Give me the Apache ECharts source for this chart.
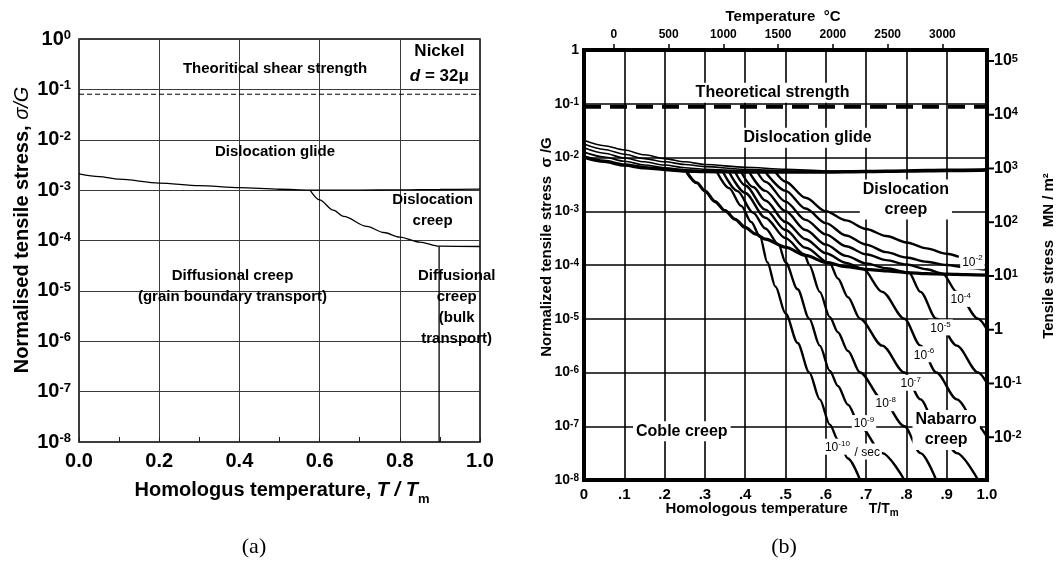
<!DOCTYPE html>
<html>
<head>
<meta charset="utf-8">
<title>Deformation mechanism maps</title>
<script src="https://cdn.jsdelivr.net/npm/echarts@6/dist/echarts.min.js"></script>
<style>
html,body{margin:0;padding:0;background:#fff;}
#chart{width:1057px;height:563px;}
</style>
</head>
<body>
<div id="chart"></div>
<script>
const FONT = '"Liberation Sans", Arial, Helvetica, sans-serif';
const SERIF = '"Liberation Serif", "Times New Roman", serif';

// ---------- (a) Nickel, d = 32 µm : field boundaries, σ/G against T/Tm ----------
const nickelGlideT      = [0, 0.05, 0.1, 0.2, 0.3, 0.4, 0.5, 0.576, 0.7, 0.8, 0.9, 1.0];
const nickelGlideStress = [2.1e-3, 1.85e-3, 1.65e-3, 1.38e-3, 1.23e-3, 1.12e-3, 1.04e-3, 1.0e-3, 1.0e-3, 1.01e-3, 1.03e-3, 1.05e-3];
const nickelCreepT      = [0.576, 0.6, 0.634, 0.66, 0.718, 0.76, 0.8, 0.85, 0.898, 1.0];
const nickelCreepStress = [1.0e-3, 6.4e-4, 4.0e-4, 3.0e-4, 1.9e-4, 1.44e-4, 1.17e-4, 9.3e-5, 7.7e-5, 7.6e-5];
const nickelBulkT       = [0.898, 0.898];
const nickelBulkStress  = [7.7e-5, 1e-8];
const nickelTheoretical = 0.08;

// ---------- (b) map with strain-rate contours : points as [T/Tm, log10(σ/G)] ----------
const theoreticalLogB = -1.055;
const glideMain = [[0,-1.99],[0.05,-2.07],[0.1,-2.14],[0.15,-2.19],[0.2,-2.22],[0.25,-2.25],[0.3,-2.26],[0.4,-2.27],[0.5,-2.27],[0.6,-2.27],[0.7,-2.26],[0.8,-2.25],[0.9,-2.24],[1.0,-2.23]];
const glideBand1 = [[0,-1.68],[0.05,-1.78],[0.1,-1.86],[0.15,-1.95],[0.2,-2.02],[0.25,-2.08],[0.3,-2.13],[0.4,-2.18],[0.5,-2.22],[0.6,-2.25],[0.7,-2.26]];
const glideBand2 = [[0,-1.75],[0.05,-1.85],[0.1,-1.94],[0.15,-2.02],[0.2,-2.08],[0.25,-2.13],[0.3,-2.17],[0.4,-2.22],[0.5,-2.25],[0.6,-2.27]];
const glideBand3 = [[0,-1.82],[0.05,-1.92],[0.1,-2.01],[0.15,-2.08],[0.2,-2.14],[0.25,-2.19],[0.3,-2.22],[0.4,-2.25],[0.5,-2.27]];
const glideBand4 = [[0,-1.9],[0.05,-1.99],[0.1,-2.07],[0.15,-2.14],[0.2,-2.19],[0.25,-2.23],[0.3,-2.25],[0.4,-2.27]];
const creepDiffusionBoundary = [[0.255,-2.27],[0.28,-2.47],[0.3,-2.62],[0.325,-2.82],[0.35,-2.99],[0.375,-3.15],[0.4,-3.3],[0.425,-3.42],[0.45,-3.52],[0.5,-3.67],[0.55,-3.82],[0.6,-3.95],[0.65,-4.03],[0.7,-4.08],[0.75,-4.11],[0.8,-4.14],[0.85,-4.16],[0.9,-4.17],[0.95,-4.18],[1.0,-4.19]];
const rate1e2  = [[0.475,-2.27],[0.5,-2.45],[0.55,-2.75],[0.6,-3.0],[0.65,-3.17],[0.7,-3.33],[0.75,-3.46],[0.8,-3.58],[0.85,-3.69],[0.9,-3.79],[0.93,-3.85]];
const rate1e3  = [[0.45,-2.27],[0.5,-2.62],[0.55,-2.95],[0.6,-3.22],[0.65,-3.45],[0.7,-3.62],[0.75,-3.76],[0.8,-3.86],[0.85,-3.94],[0.9,-4.0],[0.95,-4.05],[1.0,-4.09]];
const rate1e4  = [[0.43,-2.27],[0.45,-2.45],[0.5,-2.82],[0.55,-3.16],[0.6,-3.43],[0.65,-3.65],[0.7,-3.8],[0.75,-3.91],[0.8,-3.99],[0.85,-4.08],[0.89,-4.16],[0.925,-4.5],[0.978,-5.0],[1.0,-5.2]];
const rate1e5  = [[0.41,-2.27],[0.45,-2.62],[0.5,-3.0],[0.55,-3.35],[0.6,-3.62],[0.65,-3.83],[0.7,-3.97],[0.75,-4.06],[0.806,-4.14],[0.835,-4.5],[0.874,-5.0],[0.925,-5.5],[0.978,-6.0],[1.0,-6.2]];
const rate1e6  = [[0.39,-2.27],[0.42,-2.55],[0.45,-2.8],[0.5,-3.2],[0.55,-3.52],[0.6,-3.78],[0.65,-3.96],[0.692,-4.07],[0.74,-4.5],[0.795,-5.0],[0.835,-5.5],[0.874,-6.0],[0.925,-6.5],[0.978,-7.0],[1.0,-7.2]];
const rate1e7  = [[0.375,-2.27],[0.4,-2.52],[0.45,-2.97],[0.5,-3.35],[0.55,-3.68],[0.61,-3.97],[0.63,-4.25],[0.655,-4.6],[0.685,-5.0],[0.74,-5.5],[0.795,-6.0],[0.835,-6.5],[0.874,-7.0],[0.925,-7.5],[0.978,-8.0]];
const rate1e8  = [[0.36,-2.27],[0.4,-2.66],[0.45,-3.12],[0.5,-3.5],[0.547,-3.8],[0.559,-4.0],[0.585,-4.5],[0.61,-4.97],[0.63,-5.25],[0.655,-5.6],[0.685,-6.0],[0.74,-6.5],[0.795,-7.0],[0.835,-7.5],[0.874,-8.0]];
const rate1e9  = [[0.345,-2.27],[0.38,-2.62],[0.42,-3.03],[0.45,-3.32],[0.483,-3.62],[0.5,-3.95],[0.53,-4.45],[0.559,-5.0],[0.585,-5.5],[0.61,-5.97],[0.63,-6.25],[0.655,-6.6],[0.685,-7.0],[0.74,-7.5],[0.795,-8.0]];
const rate1e10 = [[0.33,-2.27],[0.36,-2.57],[0.39,-2.9],[0.415,-3.2],[0.437,-3.48],[0.455,-3.95],[0.475,-4.4],[0.5,-4.9],[0.53,-5.45],[0.559,-6.0],[0.585,-6.5],[0.61,-6.97],[0.63,-7.25],[0.655,-7.6],[0.685,-8.0]];

// scales along the top and right of (b)
const MELT_K = 3680;          // melting point, K
const SHEAR_MODULUS = 1.6e5;  // MN/m²
const celsiusTicks = [0, 500, 1000, 1500, 2000, 2500, 3000];
const stressTicks = [1e5, 1e4, 1e3, 1e2, 1e1, 1, 1e-1, 1e-2];

// text placed on the maps: [text, T/Tm, log10(σ/G)]
const notesA = [
  ['Theoritical shear strength', 0.49, -0.595],
  ['{b|Nickel}', 0.9, -0.258],
  ['{i|d}{b| = 32μ}', 0.9, -0.754],
  ['Dislocation glide', 0.49, -2.26],
  ['Dislocation\ncreep', 0.883, -3.42],
  ['Diffusional creep\n(grain boundary transport)', 0.384, -4.93],
  ['Diffusional\ncreep\n(bulk\ntransport)', 0.943, -5.345]
];
const notesB = [
  ['Theoretical strength', 0.469, -0.806],
  ['Dislocation glide', 0.556, -1.64],
  ['Dislocation\ncreep', 0.8, -2.79],
  ['Coble creep', 0.244, -7.1],
  ['Nabarro\ncreep', 0.9, -7.08]
];
const rateNotes = [
  ['{n|10}{s|-2}', 0.965, -3.94],
  ['{n|10}{s|-4}', 0.936, -4.64],
  ['{n|10}{s|-5}', 0.886, -5.17],
  ['{n|10}{s|-6}', 0.845, -5.67],
  ['{n|10}{s|-7}', 0.812, -6.2],
  ['{n|10}{s|-8}', 0.75, -6.58],
  ['{n|10}{s|-9}', 0.696, -6.95],
  ['{n|10}{s|-10}', 0.63, -7.39],
  ['{n|/ sec}', 0.704, -7.48]
];

const zip = (xs, ys) => xs.map((x, i) => [x, ys[i]]);
const fromLog = pts => pts.map(([h, lg]) => [h, Math.pow(10, lg)]);

function curve(data, xi, yi, width, extra) {
  return Object.assign({
    type: 'line', xAxisIndex: xi, yAxisIndex: yi, data: data,
    symbol: 'none', smooth: 0.3, smoothMonotone: 'x', silent: true, z: 3,
    lineStyle: { color: '#000', width: width }
  }, extra || {});
}
function notes(list, xi, yi, labelStyle) {
  return {
    type: 'scatter', xAxisIndex: xi, yAxisIndex: yi, symbolSize: 1, silent: true, z: 10,
    itemStyle: { opacity: 0 },
    data: list.map(([t, h, lg]) => ({ value: [h, Math.pow(10, lg)], label: { formatter: t } })),
    label: Object.assign({ show: true, position: [0, 0], align: 'center', verticalAlign: 'middle',
      color: '#000', opacity: 1, textBorderWidth: 0 }, labelStyle)
  };
}

const expLabel = (tick, small) => v => {
  const e = Math.round(Math.log10(v));
  return (tick ? '{t| }' : '') + (e === 0 && small ? '{b|1}' : '{b|10}{s|' + e + '}');
};
const richExp = (bs, ss) => ({
  t: { width: 5, height: 2, backgroundColor: '#000', lineHeight: 2, verticalAlign: 'middle', fontSize: 1 },
  b: { fontSize: bs, fontWeight: 'bold', fontFamily: FONT, color: '#000', lineHeight: bs, verticalAlign: 'bottom' },
  s: { fontSize: ss, fontWeight: 'bold', fontFamily: FONT, color: '#000', lineHeight: ss - 2, verticalAlign: 'top' }
});

// text pieces with a lowered subscript, laid out with measured widths
const measureCtx = document.createElement('canvas').getContext('2d');
function textWidth(str, font) { measureCtx.font = font; return measureCtx.measureText(str).width; }
function withSubscript(parts, cx, cy) {
  const widths = parts.map(p => textWidth(p.text, p.font));
  let x = cx - widths.reduce((a, b) => a + b, 0) / 2;
  return parts.map((p, i) => {
    const el = { type: 'text', x: x, y: cy + (p.dy || 0),
      style: { text: p.text, font: p.font, fill: '#000', textAlign: 'left', textVerticalAlign: 'middle' } };
    x += widths[i];
    return el;
  });
}

const option = {
  animation: false,
  backgroundColor: '#fff',
  grid: [
    { left: 79, top: 39, width: 401, height: 403, show: true, borderColor: '#000', borderWidth: 1.5, backgroundColor: 'transparent' },
    { left: 584, top: 50, width: 403, height: 430, show: true, borderColor: '#000', borderWidth: 4, backgroundColor: 'transparent' }
  ],
  xAxis: [
    { gridIndex: 0, type: 'value', min: 0, max: 1, interval: 0.2,
      axisLine: { show: false },
      axisTick: { show: true, inside: true, length: 5, lineStyle: { color: '#222' } },
      minorTick: { show: true, splitNumber: 2, length: 5, lineStyle: { color: '#222' } },
      splitLine: { show: true, lineStyle: { color: '#3a3a3a', width: 1 } },
      axisLabel: { margin: 9, fontSize: 20, fontWeight: 'bold', fontFamily: FONT, color: '#000',
        formatter: v => v.toFixed(1) } },
    { gridIndex: 1, type: 'value', min: 0, max: 1, interval: 0.1,
      axisLine: { show: false }, axisTick: { show: false },
      splitLine: { show: true, lineStyle: { color: '#000', width: 1.6 } },
      axisLabel: { margin: 7, fontSize: 15, fontWeight: 'bold', fontFamily: FONT, color: '#000',
        formatter: v => v === 0 ? '0' : (v >= 1 ? '1.0' : '.' + Math.round(v * 10)) } },
    { gridIndex: 1, type: 'value', position: 'top', min: -273, max: MELT_K - 273,
      axisLine: { show: false },
      axisTick: { show: true, customValues: celsiusTicks, length: 6, lineStyle: { color: '#000', width: 1.5 } },
      splitLine: { show: false },
      axisLabel: { customValues: celsiusTicks, margin: 9, fontSize: 12, fontWeight: 'bold', fontFamily: FONT, color: '#000',
        formatter: v => String(v) } }
  ],
  yAxis: [
    { gridIndex: 0, type: 'log', logBase: 10, min: 1e-8, max: 1, splitNumber: 8,
      axisLine: { show: false }, axisTick: { show: false },
      splitLine: { show: true, lineStyle: { color: '#3a3a3a', width: 1 } },
      axisLabel: { margin: 8, formatter: expLabel(false, false), rich: richExp(20, 13) } },
    { gridIndex: 1, type: 'log', logBase: 10, min: 1e-8, max: 1, splitNumber: 8,
      axisLine: { show: false }, axisTick: { show: false },
      splitLine: { show: true, lineStyle: { color: '#000', width: 1.6 } },
      axisLabel: { margin: 5, formatter: expLabel(false, true), rich: richExp(14, 10) } },
    { gridIndex: 1, type: 'log', logBase: 10, position: 'right',
      min: SHEAR_MODULUS * 1e-8, max: SHEAR_MODULUS,
      axisLine: { show: false }, axisTick: { show: false },
      splitLine: { show: false },
      axisLabel: { customValues: stressTicks, margin: 2, formatter: expLabel(true, true), rich: richExp(16, 11) } }
  ],
  graphic: [].concat(
    [{ type: 'text', x: 22, y: 230, rotation: Math.PI / 2, style: {
        text: '{n|Normalised tensile stress, }{i|σ/G}', textAlign: 'center', textVerticalAlign: 'middle',
        rich: { n: { fontSize: 20, fontWeight: 'bold', fontFamily: FONT, fill: '#000' },
                i: { fontSize: 20, fontStyle: 'italic', fontFamily: FONT, fill: '#000' } } } }],
    withSubscript([
      { text: 'Homologus temperature, ', font: 'bold 20px ' + FONT },
      { text: 'T / T', font: 'italic bold 20px ' + FONT },
      { text: 'm', font: 'bold 13px ' + FONT, dy: 9 }
    ], 282, 490),
    withSubscript([
      { text: 'Homologous temperature     ', font: 'bold 15px ' + FONT },
      { text: 'T/T', font: 'bold 14px ' + FONT },
      { text: 'm', font: 'bold 10px ' + FONT, dy: 4 }
    ], 782, 509),
    [
      { type: 'text', x: 783, y: 17, style: {
          text: 'Temperature  °C', textAlign: 'center', textVerticalAlign: 'middle',
          font: 'bold 15px ' + FONT, fill: '#000' } },
      { type: 'text', x: 547, y: 247, rotation: Math.PI / 2, style: {
          text: 'Normalized tensile stress  σ /G', textAlign: 'center', textVerticalAlign: 'middle',
          font: 'bold 15px ' + FONT, fill: '#000' } },
      { type: 'text', x: 1049, y: 256, rotation: Math.PI / 2, style: {
          text: 'Tensile stress   MN / m²', textAlign: 'center', textVerticalAlign: 'middle',
          font: 'bold 15px ' + FONT, fill: '#000' } },
      { type: 'text', x: 254, y: 547, style: { text: '(a)', textAlign: 'center', textVerticalAlign: 'middle', font: '22px ' + SERIF, fill: '#000' } },
      { type: 'text', x: 784, y: 547, style: { text: '(b)', textAlign: 'center', textVerticalAlign: 'middle', font: '22px ' + SERIF, fill: '#000' } }
    ]
  ),
  series: [
    // (a)
    curve([[0, nickelTheoretical], [1, nickelTheoretical]], 0, 0, 1.2, { smooth: false, lineStyle: { color: '#000', width: 1.2, type: [5, 3] } }),
    curve(zip(nickelGlideT, nickelGlideStress), 0, 0, 1.3),
    curve(zip(nickelCreepT, nickelCreepStress), 0, 0, 1.3),
    curve(zip(nickelBulkT, nickelBulkStress), 0, 0, 1.3, { smooth: false }),
    notes(notesA, 0, 0, { fontSize: 15, fontWeight: 'bold', fontFamily: FONT, lineHeight: 21,
      rich: { i: { fontSize: 17, fontStyle: 'italic', fontWeight: 'bold', fontFamily: FONT, color: '#000' },
              b: { fontSize: 17, fontWeight: 'bold', fontFamily: FONT, color: '#000' } } }),
    // (b)
    curve([[0, Math.pow(10, theoreticalLogB)], [1, Math.pow(10, theoreticalLogB)]], 1, 1, 4, { smooth: false, lineStyle: { color: '#000', width: 4, type: [17, 9] } }),
    curve(fromLog(glideBand1), 1, 1, 1.6),
    curve(fromLog(glideBand2), 1, 1, 1.6),
    curve(fromLog(glideBand3), 1, 1, 1.6),
    curve(fromLog(glideBand4), 1, 1, 1.6),
    curve(fromLog(glideMain), 1, 1, 3.6),
    curve(fromLog(creepDiffusionBoundary), 1, 1, 3.2),
    curve(fromLog(rate1e2), 1, 1, 2.4),
    curve(fromLog(rate1e3), 1, 1, 2.4),
    curve(fromLog(rate1e4), 1, 1, 2.4),
    curve(fromLog(rate1e5), 1, 1, 2.4),
    curve(fromLog(rate1e6), 1, 1, 2.4),
    curve(fromLog(rate1e7), 1, 1, 2.4),
    curve(fromLog(rate1e8), 1, 1, 2.4),
    curve(fromLog(rate1e9), 1, 1, 2.4),
    curve(fromLog(rate1e10), 1, 1, 2.4),
    notes(notesB, 1, 1, { fontSize: 16, fontWeight: 'bold', fontFamily: FONT, lineHeight: 20,
      backgroundColor: '#fff', padding: [0, 3] }),
    notes(rateNotes, 1, 1, { backgroundColor: '#fff', padding: [1, 2],
      rich: { n: { fontSize: 12, fontFamily: FONT, color: '#000', lineHeight: 14, verticalAlign: 'bottom' },
              s: { fontSize: 8, fontFamily: FONT, color: '#000', lineHeight: 8, verticalAlign: 'top' } } })
  ]
};

const chart = echarts.init(document.getElementById('chart'), null, { renderer: 'canvas' });
chart.setOption(option);
</script>
</body>
</html>
